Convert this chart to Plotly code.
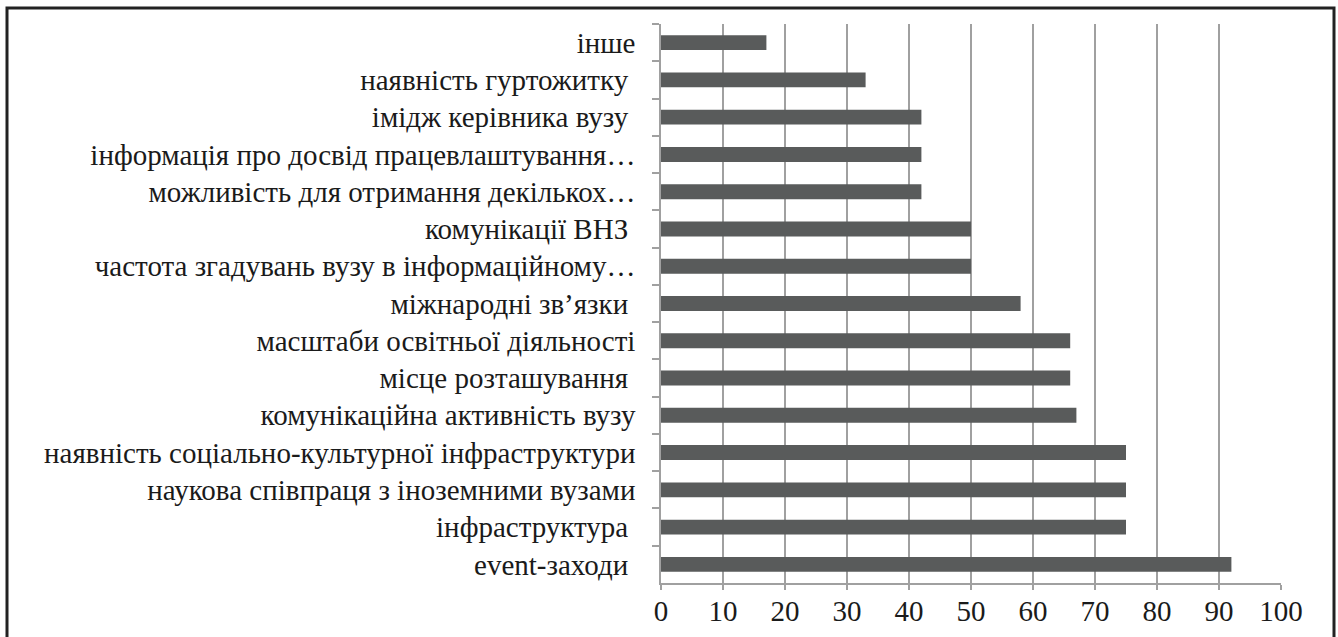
import plotly.graph_objects as go

categories = [
    "інше",
    "наявність гуртожитку ",
    "імідж керівника вузу ",
    "інформація про досвід працевлаштування…",
    "можливість для отримання декількох…",
    "комунікації ВНЗ ",
    "частота згадувань вузу в інформаційному…",
    "міжнародні зв’язки ",
    "масштаби освітньої діяльності",
    "місце розташування ",
    "комунікаційна активність вузу",
    "наявність соціально-культурної інфраструктури",
    "наукова співпраця з іноземними вузами",
    "інфраструктура ",
    "event-заходи ",
]
values = [17, 33, 42, 42, 42, 50, 50, 58, 66, 66, 67, 75, 75, 75, 92]
x_ticks = [0, 10, 20, 30, 40, 50, 60, 70, 80, 90, 100]

W, H = 1338, 637
L, R, T, B = 661, 57, 24, 54
pw = W - L - R
ph = H - T - B

fig = go.Figure(go.Bar(
    x=values, y=categories, orientation="h",
    marker=dict(color="#595b5b", line=dict(width=0)),
))

def px_x(p):
    return (p - L) / pw

def px_y(p):
    return (H - B - p) / ph

fig.add_shape(type="rect", xref="paper", yref="paper",
              x0=px_x(7), x1=px_x(1334), y0=px_y(660), y1=px_y(8),
              line=dict(color="#222222", width=3), layer="above")

FONT = "'Liberation Serif', 'Times New Roman', 'DejaVu Serif', serif"

fig.update_layout(
    width=W, height=H,
    margin=dict(l=L, r=R, t=T, b=B, pad=0, autoexpand=False),
    paper_bgcolor="white", plot_bgcolor="white",
    bargap=0.6,
    showlegend=False,
    font=dict(family=FONT, size=29, color="#1a1a1a"),
    xaxis=dict(
        automargin=False,
        range=[0, 100], tickvals=x_ticks, ticktext=[str(v) for v in x_ticks],
        showgrid=True, gridcolor="#a0a0a0", gridwidth=1.5,
        zeroline=False, showline=True, linecolor="#a0a0a0", linewidth=1.5,
        ticks="outside", ticklen=5, tickcolor="#a0a0a0", tickwidth=1.5,
        ticklabelstandoff=-4,
        tickfont=dict(family=FONT, size=29),
    ),
    yaxis=dict(
        automargin=False,
        categoryorder="array", categoryarray=categories,
        autorange="reversed",
        showgrid=False, zeroline=False,
        showline=True, linecolor="#a0a0a0", linewidth=1.5,
        ticks="outside", tickson="boundaries", ticklen=7,
        tickcolor="#a0a0a0", tickwidth=1.5,
        ticklabelstandoff=18,
        tickfont=dict(family=FONT, size=29),
    ),
)

fig.write_html("out.html")
